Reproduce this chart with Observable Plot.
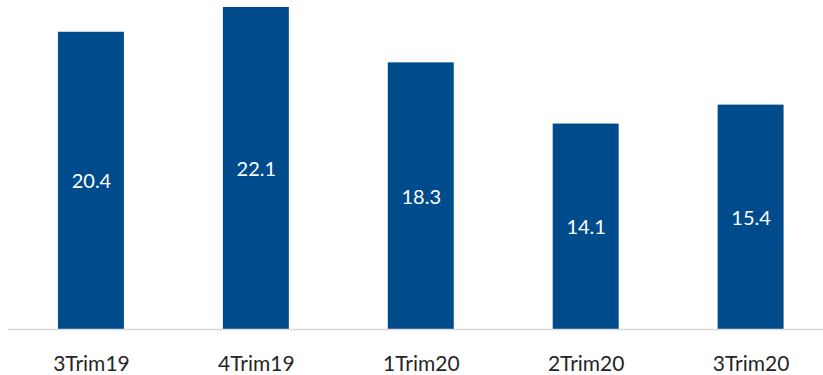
<!DOCTYPE html>
<html>
<head>
<meta charset="utf-8">
<script src="https://cdn.jsdelivr.net/npm/d3@7"></script>
<script src="https://cdn.jsdelivr.net/npm/@observablehq/plot@0.6"></script>
<style>
  html, body { margin: 0; padding: 0; background: #fff; }
  #chart svg { display: block; }
</style>
</head>
<body>
<div id="chart"></div>
<script>
// Quarterly values shown in each bar
const quarters = ["3Trim19", "4Trim19", "1Trim20", "2Trim20", "3Trim20"];
const values = [20.4, 22.1, 18.3, 14.1, 15.4];

const rows = quarters.map((q, i) => ({quarter: q, value: values[i]}));
const barColor = "#004b8c";
const fontFamily = "Lato, 'Open Sans', sans-serif";

const chart = Plot.plot({
  width: 823,
  height: 375,
  marginTop: 0,
  marginBottom: 46,
  marginLeft: 8,
  marginRight: 0,
  style: {fontFamily, background: "#fff"},
  x: {domain: quarters, paddingInner: 0.6, paddingOuter: 0.271, align: 0.559, round: false, label: null},
  y: {domain: [0, 22.58], axis: null},
  marks: [
    Plot.barY(rows, {x: "quarter", y: "value", fill: barColor}),
    Plot.ruleY([0], {stroke: "#d9d9d9", strokeWidth: 1.5}),
    Plot.text(rows, {
      x: "quarter",
      y: d => d.value / 2,
      text: d => d.value.toFixed(1),
      fill: "white",
      fontSize: 20,
      dy: 1
    }),
    Plot.axisX({
      tickSize: 0,
      tickPadding: 27,
      fontSize: 21,
      color: "#262626",
      label: null
    })
  ]
});

document.getElementById("chart").appendChild(chart);
</script>
</body>
</html>
